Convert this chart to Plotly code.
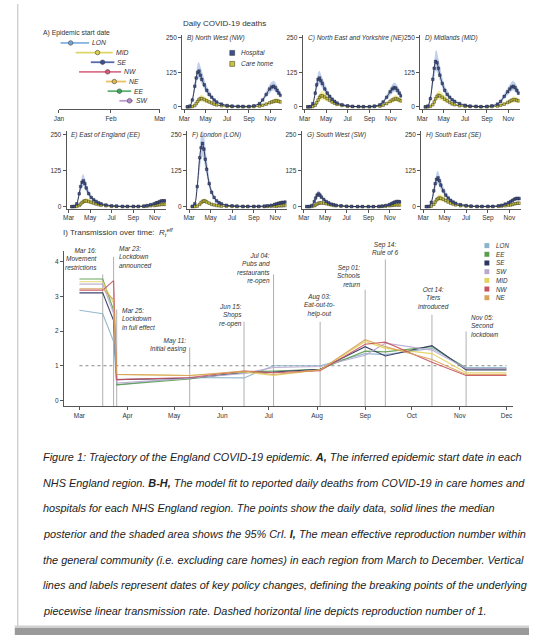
import plotly.graph_objects as go

W, H = 535, 636
def fx(px): return px / W
def fy(py): return 1 - py / H

# ---------------- DATA ----------------
regions_a = ["LON", "MID", "SE", "NW", "NE", "EE", "SW"]
start_lo = ["2020-01-02", "2020-01-11", "2020-01-20", "2020-01-13", "2020-01-29", "2020-01-30", "2020-02-06"]
start_med = ["2020-01-08", "2020-01-24", "2020-01-27", "2020-01-30", "2020-02-03", "2020-02-06", "2020-02-12"]
start_hi = ["2020-01-19", "2020-02-02", "2020-02-03", "2020-02-07", "2020-02-10", "2020-02-13", "2020-02-14"]

death_dates = ["2020-03-10", "2020-03-17", "2020-03-24", "2020-03-31", "2020-04-04", "2020-04-08", "2020-04-12",
               "2020-04-16", "2020-04-20", "2020-04-27", "2020-05-04", "2020-05-11", "2020-05-18", "2020-05-25",
               "2020-06-01", "2020-06-15", "2020-07-01", "2020-07-15", "2020-08-01", "2020-08-15", "2020-09-01",
               "2020-09-15", "2020-10-01", "2020-10-10", "2020-10-20", "2020-10-30", "2020-11-05", "2020-11-10",
               "2020-11-15", "2020-11-20", "2020-11-25", "2020-11-30"]

hosp_nw = [0, 3, 25, 75, 105, 125, 130, 115, 100, 80, 60, 45, 35, 25, 18, 10, 5, 3, 2, 2, 2, 4, 12, 25, 45, 65, 72, 75, 70, 60, 50, 42]
care_nw = [0, 0, 1, 5, 12, 20, 27, 30, 30, 27, 22, 18, 14, 10, 7, 4, 2, 1, 1, 0, 0, 1, 3, 6, 10, 15, 18, 20, 22, 22, 20, 18]
hosp_ne = [0, 1, 12, 50, 80, 100, 105, 95, 85, 65, 50, 38, 28, 20, 14, 8, 4, 2, 1, 1, 1, 3, 8, 18, 35, 55, 65, 70, 68, 60, 50, 40]
care_ne = [0, 0, 1, 6, 15, 25, 35, 40, 40, 36, 30, 24, 18, 13, 9, 5, 2, 1, 1, 0, 0, 1, 3, 6, 12, 20, 25, 28, 30, 28, 25, 22]
hosp_mid = [0, 3, 30, 100, 140, 165, 160, 140, 115, 85, 60, 45, 35, 26, 20, 12, 6, 3, 2, 1, 2, 4, 10, 20, 38, 55, 65, 72, 75, 70, 60, 50]
care_mid = [0, 0, 2, 8, 18, 30, 38, 42, 40, 35, 28, 22, 16, 11, 8, 4, 2, 1, 1, 0, 0, 1, 3, 6, 10, 16, 20, 24, 26, 26, 24, 22]
hosp_ee = [0, 1, 10, 45, 70, 85, 90, 80, 65, 45, 32, 24, 18, 13, 10, 6, 3, 2, 1, 1, 1, 1, 2, 4, 7, 10, 13, 15, 18, 20, 20, 20]
care_ee = [0, 0, 1, 4, 9, 14, 18, 20, 20, 18, 15, 12, 9, 7, 5, 3, 1, 1, 0, 0, 0, 0, 1, 2, 3, 4, 5, 6, 7, 8, 8, 8]
hosp_lon = [1, 10, 70, 170, 205, 220, 200, 165, 130, 80, 50, 32, 20, 14, 10, 5, 3, 2, 1, 1, 1, 1, 2, 3, 5, 8, 10, 12, 13, 15, 15, 16]
care_lon = [0, 0, 2, 8, 14, 18, 20, 19, 16, 12, 8, 6, 4, 3, 2, 1, 1, 0, 0, 0, 0, 0, 0, 1, 1, 2, 2, 3, 3, 3, 4, 4]
hosp_sw = [0, 0, 4, 18, 30, 40, 45, 40, 33, 25, 18, 13, 9, 7, 5, 3, 1, 1, 0, 0, 0, 0, 1, 2, 4, 7, 10, 13, 16, 18, 18, 17]
care_sw = [0, 0, 1, 3, 6, 9, 12, 13, 13, 12, 10, 8, 6, 4, 3, 2, 1, 0, 0, 0, 0, 0, 0, 1, 2, 3, 4, 5, 6, 6, 6, 6]
hosp_se = [0, 1, 15, 55, 80, 95, 100, 90, 75, 55, 40, 30, 22, 16, 12, 7, 4, 2, 1, 1, 1, 1, 3, 5, 9, 14, 18, 22, 26, 28, 28, 28]
care_se = [0, 0, 2, 8, 16, 24, 28, 30, 29, 26, 21, 16, 12, 9, 6, 3, 2, 1, 0, 0, 0, 0, 1, 2, 3, 5, 6, 8, 10, 11, 12, 12]

death_panels = ["B) North West (NW)", "C) North East and Yorkshire (NE)", "D) Midlands (MID)",
                "E) East of England (EE)", "F) London (LON)", "G) South West (SW)", "H) South East (SE)"]
death_hosp = [hosp_nw, hosp_ne, hosp_mid, hosp_ee, hosp_lon, hosp_sw, hosp_se]
death_care = [care_nw, care_ne, care_mid, care_ee, care_lon, care_sw, care_se]
death_ticks = [0, 125, 250]

rt_dates = ["2020-03-01", "2020-03-16", "2020-03-23", "2020-03-25", "2020-05-11", "2020-06-15", "2020-07-04",
            "2020-08-03", "2020-09-01", "2020-09-14", "2020-10-14", "2020-11-05", "2020-12-01"]
rt_regions = ["LON", "EE", "SE", "SW", "MID", "NW", "NE"]
rt_lon = [2.6, 2.5, 1.7, 0.45, 0.66, 0.65, 1.0, 1.0, 1.35, 1.32, 1.5, 0.95, 0.95]
rt_ee = [3.5, 3.5, 2.6, 0.45, 0.62, 0.82, 0.85, 0.9, 1.42, 1.4, 1.55, 0.92, 0.92]
rt_se = [3.1, 3.1, 2.3, 0.6, 0.64, 0.8, 0.82, 0.9, 1.55, 1.28, 1.58, 0.88, 0.88]
rt_sw = [3.35, 3.35, 2.5, 0.5, 0.64, 0.78, 0.95, 0.98, 1.3, 1.65, 1.45, 0.92, 0.92]
rt_mid = [3.42, 3.42, 2.8, 0.75, 0.72, 0.82, 0.72, 0.88, 1.7, 1.5, 1.35, 0.8, 0.8]
rt_nw = [3.18, 3.18, 3.45, 0.6, 0.66, 0.85, 0.8, 0.86, 1.62, 1.68, 1.1, 0.72, 0.72]
rt_ne = [3.22, 3.22, 2.9, 0.75, 0.72, 0.85, 0.75, 0.88, 1.75, 1.55, 1.18, 0.75, 0.75]
rt_values = [rt_lon, rt_ee, rt_se, rt_sw, rt_mid, rt_nw, rt_ne]

policy_dates = ["2020-03-16", "2020-03-23", "2020-03-25", "2020-05-11", "2020-06-15", "2020-07-04",
                "2020-08-03", "2020-09-01", "2020-09-14", "2020-10-14", "2020-11-05"]
policy_tops = [3.63, 4.14, 2.62, 1.53, 2.27, 3.63, 2.27, 3.19, 4.06, 2.47, 1.99]
policy_labels = ["Mar 16:<br>Movement<br>restrictions", "Mar 23:<br>Lockdown<br>announced",
                 "Mar 25:<br>Lockdown<br>in full effect", "May 11:<br>Initial easing",
                 "Jun 15:<br>Shops<br>re-open", "Jul 04:<br>Pubs and<br>restaurants<br>re-open",
                 "Aug 03:<br>Eat-out-to-<br>help-out", "Sep 01:<br>Schools<br>return",
                 "Sep 14:<br>Rule of 6", "Oct 14:<br>Tiers<br>introduced", "Nov 05:<br>Second<br>lockdown"]

caption_lines = [
    "Figure 1: Trajectory of the England COVID-19 epidemic. <b>A,</b> The inferred epidemic start date in each",
    "NHS England region. <b>B-H,</b> The model fit to reported daily deaths from COVID-19 in care homes and",
    "hospitals for each NHS England region. The points show the daily data, solid lines the median",
    "posterior and the shaded area shows the 95% CrI. <b>I,</b> The mean effective reproduction number within",
    "the general community (i.e. excluding care homes) in each region from March to December. Vertical",
    "lines and labels represent dates of key policy changes, defining the breaking points of the underlying",
    "piecewise linear transmission rate. Dashed horizontal line depicts reproduction number of 1.",
]

# ---------------- STYLE ----------------
FONT = "Liberation Sans, Arial, sans-serif"
AX = "#555555"
TXT = "#333333"
colors_a = {"LON": "#6fa8dc", "MID": "#d9cf4a", "SE": "#3b4ea0", "NW": "#d65a78",
            "NE": "#e8b847", "EE": "#3fa55a", "SW": "#b58ac9"}
colors_rt = {"LON": "#8db3cc", "EE": "#5c9e4e", "SE": "#2d3561", "SW": "#b9a9cf",
             "MID": "#e3d35f", "NW": "#c8525f", "NE": "#d9a35c"}

fig = go.Figure()
layout = dict(width=W, height=H, margin=dict(l=0, r=0, t=0, b=0),
              paper_bgcolor="white", plot_bgcolor="white", showlegend=False,
              font=dict(family=FONT, color=TXT, size=7))
annotations = []
shapes = []

def axis_common():
    return dict(showline=True, linecolor=AX, linewidth=1, ticks="outside", ticklen=3,
                tickcolor=AX, showgrid=False, zeroline=False,
                tickfont=dict(size=6.5, color=TXT, family=FONT))

# ---------------- Panel A ----------------
layout["xaxis"] = dict(domain=[fx(55), fx(158)], range=["2020-01-01", "2020-03-01"], anchor="y",
                       type="date", tickvals=["2020-01-01", "2020-02-01", "2020-03-01"],
                       ticktext=["Jan", "Feb", "Mar"], **axis_common())
layout["yaxis"] = dict(domain=[fy(109), fy(37.2)], range=[6.83, -0.6], visible=False, anchor="x")
for i, r in enumerate(regions_a):
    c = colors_a[r]
    fig.add_trace(go.Scatter(x=[start_lo[i], start_hi[i]], y=[i, i], mode="lines",
                             line=dict(color=c, width=1.8), xaxis="x", yaxis="y", opacity=0.85))
    fig.add_trace(go.Scatter(x=[start_med[i]], y=[i], mode="markers",
                             marker=dict(color=c, size=4.5, line=dict(color="#444", width=0.6)),
                             xaxis="x", yaxis="y"))
    annotations.append(dict(x=start_hi[i], y=i, xref="x", yref="y", text="<i>" + r + "</i>",
                            showarrow=False, xanchor="left", xshift=1, font=dict(size=6.8)))
annotations.append(dict(x=fx(37), y=fy(33), xref="paper", yref="paper", text="A) Epidemic start date",
                        showarrow=False, xanchor="left", yanchor="middle", font=dict(size=6.8)))

# ---------------- Panels B-H ----------------
mar_px = [183, 306, 426, 65, 188, 305, 427]
rows = [0, 0, 0, 1, 1, 1, 1]
row_dom = [(109, 34.7), (209, 131.5)]
row_250 = [38, 135]
ppd = 0.359
for k in range(7):
    ax_i = k + 2
    xs = "x%d" % ax_i
    ys = "y%d" % ax_i
    x0 = mar_px[k] - 6 * ppd
    x1 = x0 + 283 * ppd
    b, t = row_dom[rows[k]]
    layout["xaxis%d" % ax_i] = dict(domain=[fx(x0), fx(x1)], range=["2020-02-24", "2020-12-03"],
                                    anchor=ys, type="date",
                                    tickvals=["2020-03-01", "2020-05-01", "2020-07-01", "2020-09-01", "2020-11-01"],
                                    ticktext=["Mar", "May", "Jul", "Sep", "Nov"], **axis_common())
    layout["yaxis%d" % ax_i] = dict(domain=[fy(b), fy(t)], range=[-7, 262], anchor=xs,
                                    tickvals=death_ticks, **axis_common())
    for vals, band, pt, ln, lo_f, hi_f in [
        (death_care[k], "rgba(236,226,110,0.65)", "#c9c33a", "#5a5a20", 0.65, 1.4),
        (death_hosp[k], "rgba(140,170,225,0.55)", "#3d4f8f", "#1e2540", 0.8, 1.25),
    ]:
        fig.add_trace(go.Scatter(x=death_dates, y=[v * lo_f for v in vals], mode="lines",
                                 line=dict(width=0, color=band), xaxis=xs, yaxis=ys, hoverinfo="skip"))
        fig.add_trace(go.Scatter(x=death_dates, y=[v * hi_f + 1 for v in vals], mode="lines",
                                 line=dict(width=0, color=band), fill="tonexty", fillcolor=band,
                                 xaxis=xs, yaxis=ys, hoverinfo="skip"))
        fig.add_trace(go.Scatter(x=death_dates, y=vals, mode="lines+markers",
                                 line=dict(color=ln, width=0.9, shape="spline"),
                                 marker=dict(symbol="square", size=2.6, color=pt,
                                             line=dict(color="#222", width=0.4)),
                                 xaxis=xs, yaxis=ys))
    annotations.append(dict(x=fx(x0 + 3), y=fy(row_250[rows[k]]), xref="paper", yref="paper",
                            text="<i>" + death_panels[k] + "</i>", showarrow=False,
                            xanchor="left", yanchor="middle", font=dict(size=6.5)))

annotations.append(dict(x=fx(180), y=fy(24), xref="paper", yref="paper", text="Daily COVID-19 deaths",
                        showarrow=False, xanchor="left", yanchor="middle", font=dict(size=8)))
# legend for hospital / care home
for py, col, lab in [(53, "#3d4f8f", "Hospital"), (64, "#c9c33a", "Care home")]:
    shapes.append(dict(type="rect", xref="paper", yref="paper", x0=fx(229.5), x1=fx(234.5),
                       y0=fy(py + 2.5), y1=fy(py - 2.5), fillcolor=col, line=dict(color="#333", width=0.5)))
    annotations.append(dict(x=fx(239), y=fy(py), xref="paper", yref="paper", text="<i>" + lab + "</i>",
                            showarrow=False, xanchor="left", yanchor="middle", font=dict(size=6.5)))

# ---------------- Panel I ----------------
ppd_i = 436 / 275
xi0 = 76 - 10 * ppd_i
xi1 = 76 + 279 * ppd_i
layout["xaxis9"] = dict(domain=[fx(xi0), fx(xi1)], range=["2020-02-20", "2020-12-05"], anchor="y9", type="date",
                        tickvals=["2020-%02d-01" % m for m in range(3, 13)],
                        ticktext=["Mar", "Apr", "May", "Jun", "Jul", "Aug", "Sep", "Oct", "Nov", "Dec"],
                        **axis_common())
layout["yaxis9"] = dict(domain=[fy(407), fy(251.6)], range=[-0.17, 4.3], anchor="x9",
                        tickvals=[0, 1, 2, 3, 4], **axis_common())

for d, top in zip(policy_dates, policy_tops):
    fig.add_trace(go.Scatter(x=[d, d], y=[-0.17, top], mode="lines",
                             line=dict(color="#b0b0b0", width=1), xaxis="x9", yaxis="y9"))
fig.add_trace(go.Scatter(x=["2020-03-01", "2020-12-01"], y=[1, 1], mode="lines",
                         line=dict(color="#888888", width=1, dash="dot"), xaxis="x9", yaxis="y9"))
for r, vals in zip(rt_regions, rt_values):
    fig.add_trace(go.Scatter(x=rt_dates, y=vals, mode="lines", line=dict(color=colors_rt[r], width=1.1),
                             xaxis="x9", yaxis="y9", opacity=0.9))

label_pos = [(96, 252, "right"), (115, 250, "left"), (118, 312, "left"), (187, 342, "right"),
             (243, 308, "right"), (272, 257, "right"), (322, 298, "center"), (365, 269, "right"),
             (388, 246, "center"), (437, 291, "center"), (475, 319, "left")]
for lab, (px, py, al) in zip(policy_labels, label_pos):
    annotations.append(dict(x=fx(px), y=fy(py - 5.5), xref="paper", yref="paper",
                            text="<i>" + lab + "</i>", showarrow=False, xanchor=al, yanchor="top",
                            align=al, font=dict(size=6.5), borderpad=0))

annotations.append(dict(x=fx(57), y=fy(233), xref="paper", yref="paper",
                        text="I) Transmission over time:  <i>R<sub>t</sub><sup>eff</sup></i>",
                        showarrow=False, xanchor="left", yanchor="middle", font=dict(size=8)))
for j, r in enumerate(rt_regions):
    py = 246 + j * 8.7
    shapes.append(dict(type="rect", xref="paper", yref="paper", x0=fx(489.5), x1=fx(494.5),
                       y0=fy(py + 2.5), y1=fy(py - 2.5), fillcolor=colors_rt[r], line=dict(width=0)))
    annotations.append(dict(x=fx(499), y=fy(py), xref="paper", yref="paper", text="<i>" + r + "</i>",
                            showarrow=False, xanchor="left", yanchor="middle", font=dict(size=6.3)))

# ---------------- Caption ----------------
for j, line in enumerate(caption_lines):
    annotations.append(dict(x=fx(37), y=fy(458 + j * 25.6), xref="paper", yref="paper",
                            text="<i>" + line + "</i>", showarrow=False, xanchor="left", yanchor="middle",
                            font=dict(size=10.9, color="#222222")))

# page frame
shapes.append(dict(type="line", xref="paper", yref="paper", x0=fx(13), x1=fx(13), y0=fy(4), y1=fy(628),
                   line=dict(color="#c8c8c8", width=1.2)))
shapes.append(dict(type="rect", xref="paper", yref="paper", x0=fx(10), x1=1, y0=fy(636), y1=fy(629),
                   fillcolor="#9a9a9a", line=dict(width=0)))
shapes.append(dict(type="rect", xref="paper", yref="paper", x0=fx(10), x1=1, y0=fy(629), y1=fy(626.5),
                   fillcolor="#d0d0d0", line=dict(width=0)))

layout["annotations"] = annotations
layout["shapes"] = shapes
fig.update_layout(**layout)
fig.write_html("out.html", config={"displayModeBar": False},
               post_script="document.body.style.margin='0px';document.body.style.overflow='hidden';")
